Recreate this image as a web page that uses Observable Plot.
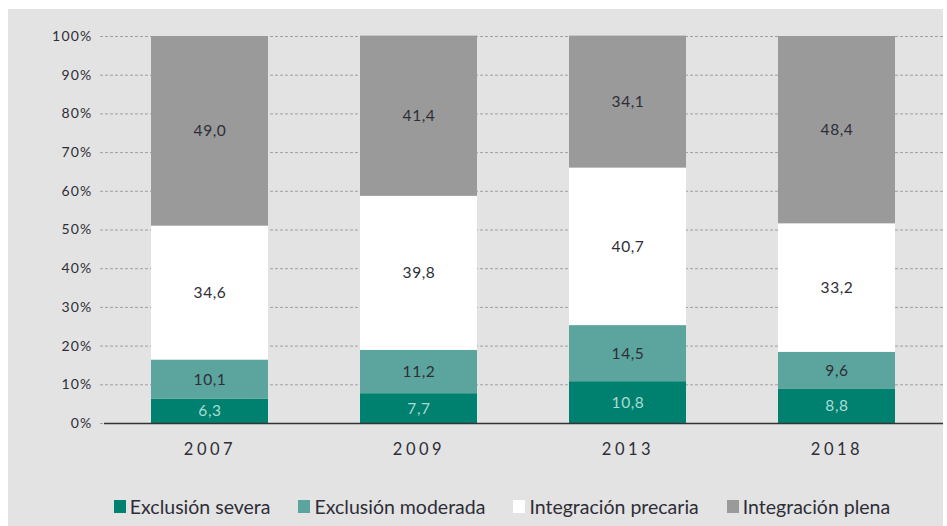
<!DOCTYPE html>
<html>
<head>
<meta charset="utf-8">
<script src="https://cdn.jsdelivr.net/npm/d3@7"></script>
<script src="https://cdn.jsdelivr.net/npm/@observablehq/plot@0.6"></script>
<style>
  html, body { margin: 0; padding: 0; background: #ffffff; }
  #wrap { position: absolute; left: 8px; top: 9px; width: 935px; height: 517px; background: #e3e3e3; }
  #legend { display: flex; justify-content: center; align-items: center; margin-top: 27px; font-family: Lato, sans-serif; font-size: 19.5px; color: #2e2e38; margin-left: 53px; }
  .item { display: flex; align-items: center; margin: 0 14px; }
  .sw { width: 12px; height: 13px; margin-right: 4px; }
  #chart svg g[aria-label="x-axis tick label"] text { letter-spacing: 3.5px; }
  #chart svg g[aria-label="y-axis tick label"] text { letter-spacing: 1.2px; }
  #chart svg g[aria-label="text"] text { letter-spacing: 0.6px; }
</style>
</head>
<body>
<div id="wrap"><div id="chart"></div><div id="legend"></div></div>
<script>
const years = ["2007", "2009", "2013", "2018"];
const categories = ["Exclusión severa", "Exclusión moderada", "Integración precaria", "Integración plena"];
const severa    = [6.3, 7.7, 10.8, 8.8];
const moderada  = [10.1, 11.2, 14.5, 9.6];
const precaria  = [34.6, 39.8, 40.7, 33.2];
const plena     = [49.0, 41.4, 34.1, 48.4];
const colors = ["#00806f", "#5ca59e", "#ffffff", "#9a9a9a"];
const labelColors = ["#a8dcd4", "#2e2e38", "#2e2e38", "#2e2e38"];
const yTicks = [0, 10, 20, 30, 40, 50, 60, 70, 80, 90, 100];

const series = [severa, moderada, precaria, plena];
const data = [];
years.forEach((y, i) => categories.forEach((c, j) => data.push({year: y, cat: c, value: series[j][i], lc: labelColors[j]})));
const fmt = v => v.toFixed(1).replace(".", ",");

const chart = Plot.plot({
  width: 935,
  height: 459,
  marginLeft: 96,
  marginRight: 0,
  marginTop: 27,
  marginBottom: 45,
  style: { background: "transparent", fontFamily: "Lato, sans-serif", color: "#2e2e38" },
  x: { domain: years, paddingInner: 0.44, paddingOuter: 0.22, label: null },
  y: { domain: [0, 100], label: null },
  color: { domain: categories, range: colors },
  marks: [
    Plot.gridY(yTicks, { stroke: "#a0a0a0", strokeOpacity: 1, strokeDasharray: "3,2", insetLeft: -4 }),
    Plot.axisY({ ticks: yTicks, tickSize: 0, tickPadding: 12, tickFormat: d => d + "%", fontSize: 14, label: null }),
    Plot.axisX({ tickSize: 0, tickPadding: 20, fontSize: 16.5, label: null }),
    Plot.barY(data, Plot.stackY({ x: "year", y: "value", fill: "cat", order: categories })),
    Plot.text(data, Plot.stackY({ x: "year", y: "value", order: categories, text: d => fmt(d.value), fill: "lc", fontSize: 15.5 })),
    Plot.ruleY([0], { stroke: "#333", strokeWidth: 1.5 })
  ]
});
document.getElementById("chart").appendChild(chart);

const legend = document.getElementById("legend");
categories.forEach((c, i) => {
  const it = document.createElement("div");
  it.className = "item";
  const sw = document.createElement("div");
  sw.className = "sw";
  sw.style.background = colors[i];
  const t = document.createElement("span");
  t.textContent = c;
  it.appendChild(sw); it.appendChild(t);
  legend.appendChild(it);
});
</script>
</body>
</html>
